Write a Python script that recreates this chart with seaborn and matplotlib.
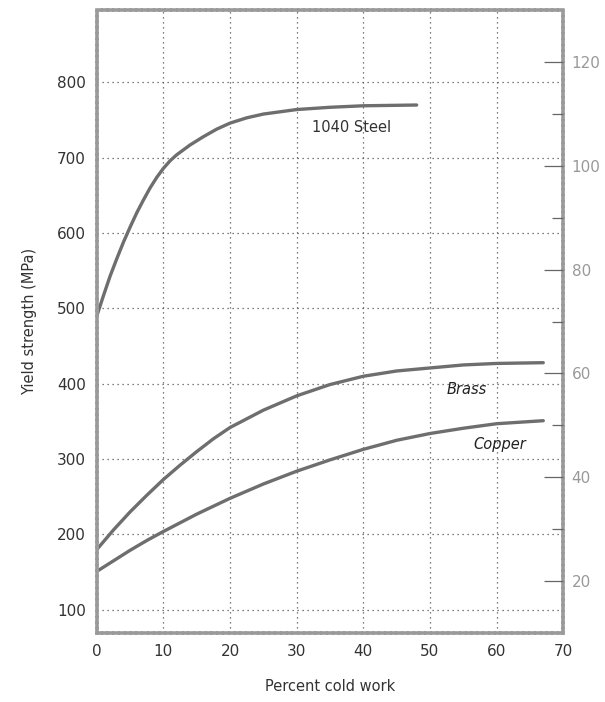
import seaborn as sns
import matplotlib
matplotlib.use("Agg")
import matplotlib.pyplot as plt
import pandas as pd

# percent cold work vs yield strength (MPa)
steel_x = [0, 1, 2, 3, 4, 5, 6, 7, 8, 9, 10, 11, 12, 14, 16, 18, 20, 22.5, 25, 27.5, 30, 35, 40, 48]
steel_y = [490, 517, 543, 566, 588, 608, 627, 644, 660, 674, 686, 696, 704, 717, 728, 738, 746,
           753, 758, 761, 764, 767, 769, 770]

brass_x = [0, 2.5, 5, 7.5, 10, 12.5, 15, 17.5, 20, 25, 30, 35, 40, 45, 50, 55, 60, 67]
brass_y = [180, 206, 230, 252, 273, 292, 310, 327, 342, 365, 384, 399, 410, 417, 421, 425, 427, 428]

copper_x = [0, 2.5, 5, 7.5, 10, 15, 20, 25, 30, 35, 40, 45, 50, 55, 60, 67]
copper_y = [151, 165, 179, 192, 204, 227, 248, 267, 284, 299, 313, 325, 334, 341, 347, 351]

x_ticks = [0, 10, 20, 30, 40, 50, 60, 70]
mpa_ticks = [100, 200, 300, 400, 500, 600, 700, 800]
ksi_ticks = [20, 40, 60, 80, 100, 120]
ksi_minor = [30, 50, 70, 90, 110]
MPA_PER_KSI = 6.895

curves = pd.concat([
    pd.DataFrame({"work": steel_x, "strength": steel_y, "metal": "1040 Steel"}),
    pd.DataFrame({"work": brass_x, "strength": brass_y, "metal": "Brass"}),
    pd.DataFrame({"work": copper_x, "strength": copper_y, "metal": "Copper"}),
])

sns.set_style("white")
plt.rcParams["font.family"] = ["DejaVu Sans"]

fig = plt.figure(figsize=(6.05, 7.02), dpi=100)
ax = fig.add_axes([0.160, 0.098, 0.771, 0.888])

sns.lineplot(data=curves, x="work", y="strength", units="metal", estimator=None,
             color="#6e6e6e", linewidth=2.4, ax=ax, legend=False)

ax.set_xlim(0, 70)
ax.set_ylim(10 * MPA_PER_KSI, 130 * MPA_PER_KSI)
ax.set_xticks(x_ticks)
ax.set_yticks(mpa_ticks)
ax.grid(True, color="#555555", linestyle=(0, (1, 3)), linewidth=0.9)
ax.tick_params(axis="both", length=0, labelsize=11, labelcolor="#333333", pad=8)
for s in ax.spines.values():
    s.set_color("#9a9a9a")
    s.set_linewidth(2.6)
    s.set_linestyle((0, (1, 0.6)))

ax.set_xlabel("Percent cold work", fontsize=10.5, color="#333333", labelpad=14)
ax.set_ylabel("Yield strength (MPa)", fontsize=10.5, color="#333333", labelpad=14)

# right axis in ksi
ax2 = ax.twinx()
ax2.set_ylim(10, 130)
ax2.set_yticks(ksi_ticks)
ax2.set_yticks(ksi_minor, minor=True)
ax2.tick_params(axis="y", which="major", direction="in", length=14, width=0.9,
                color="#666666", labelsize=11, labelcolor="#999999", pad=6)
ax2.tick_params(axis="y", which="minor", direction="in", length=8, width=0.9,
                color="#666666")
for t in ax2.yaxis.get_ticklines() + ax2.yaxis.get_ticklines(minor=True):
    t.set_linestyle((0, (1, 2)))
for s in ax2.spines.values():
    s.set_visible(False)

# curve labels
ax.text(32.3, 740, "1040 Steel", fontsize=10.5, color="#333333", va="center")
ax.text(52.5, 393, "Brass", fontsize=10.5, style="italic", color="#222222", va="center")
ax.text(56.5, 320, "Copper", fontsize=10.5, style="italic", color="#222222", va="center")

plt.savefig("out.png", dpi=100)
